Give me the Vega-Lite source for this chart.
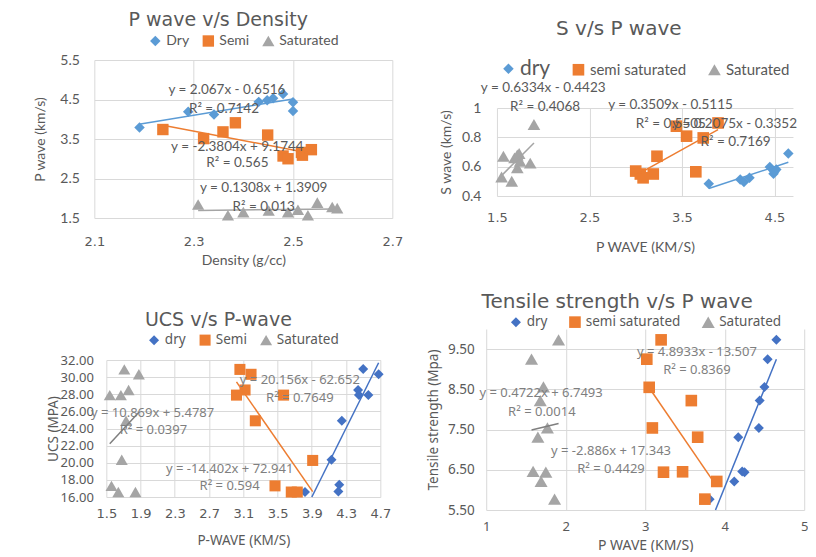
{
  "$schema": "https://vega.github.io/schema/vega-lite/v6.json",
  "background": "white",
  "padding": {"left": 33, "top": 11, "right": 0, "bottom": 0},
  "datasets": {
    "tl_pts": [
      {"g": "Dry", "x": 2.191, "y": 3.79}, {"g": "Dry", "x": 2.289, "y": 4.19}, {"g": "Dry", "x": 2.341, "y": 4.12},
      {"g": "Dry", "x": 2.431, "y": 4.44}, {"g": "Dry", "x": 2.448, "y": 4.48}, {"g": "Dry", "x": 2.46, "y": 4.53},
      {"g": "Dry", "x": 2.48, "y": 4.64}, {"g": "Dry", "x": 2.5, "y": 4.43}, {"g": "Dry", "x": 2.5, "y": 4.21},
      {"g": "Semi", "x": 2.238, "y": 3.74}, {"g": "Semi", "x": 2.32, "y": 3.51}, {"g": "Semi", "x": 2.359, "y": 3.68},
      {"g": "Semi", "x": 2.384, "y": 3.91}, {"g": "Semi", "x": 2.449, "y": 3.6}, {"g": "Semi", "x": 2.48, "y": 3.07},
      {"g": "Semi", "x": 2.49, "y": 3.0}, {"g": "Semi", "x": 2.517, "y": 3.16}, {"g": "Semi", "x": 2.519, "y": 3.09},
      {"g": "Semi", "x": 2.537, "y": 3.23},
      {"g": "Saturated", "x": 2.309, "y": 1.84}, {"g": "Saturated", "x": 2.369, "y": 1.57}, {"g": "Saturated", "x": 2.4, "y": 1.65},
      {"g": "Saturated", "x": 2.451, "y": 1.69}, {"g": "Saturated", "x": 2.49, "y": 1.65}, {"g": "Saturated", "x": 2.51, "y": 1.71},
      {"g": "Saturated", "x": 2.53, "y": 1.57}, {"g": "Saturated", "x": 2.549, "y": 1.89}, {"g": "Saturated", "x": 2.579, "y": 1.78},
      {"g": "Saturated", "x": 2.589, "y": 1.75}
    ],
    "tl_lines": [
      {"g": "Dry", "x": 2.19, "y": 3.875}, {"g": "Dry", "x": 2.5, "y": 4.515},
      {"g": "Semi", "x": 2.238, "y": 3.847}, {"g": "Semi", "x": 2.537, "y": 3.135},
      {"g": "Saturated", "x": 2.309, "y": 1.693}, {"g": "Saturated", "x": 2.589, "y": 1.729}
    ],
    "tl_lbl": [
      {"x": 2.367, "y": 4.74, "t": "y = 2.067x - 0.6516"},
      {"x": 2.361, "y": 4.25, "t": "R² = 0.7142"},
      {"x": 2.388, "y": 3.3, "t": "y = -2.3804x + 9.1744"},
      {"x": 2.388, "y": 2.9, "t": "R² = 0.565"},
      {"x": 2.441, "y": 2.26, "t": "y = 0.1308x + 1.3909"},
      {"x": 2.441, "y": 1.78, "t": "R² = 0.013"}
    ],
    "tr_pts": [
      {"g": "dry", "x": 3.79, "y": 0.483}, {"g": "dry", "x": 4.13, "y": 0.513}, {"g": "dry", "x": 4.17, "y": 0.495},
      {"g": "dry", "x": 4.23, "y": 0.524}, {"g": "dry", "x": 4.45, "y": 0.597}, {"g": "dry", "x": 4.49, "y": 0.551},
      {"g": "dry", "x": 4.52, "y": 0.581}, {"g": "dry", "x": 4.5, "y": 0.565}, {"g": "dry", "x": 4.65, "y": 0.69},
      {"g": "semi saturated", "x": 3.0, "y": 0.57}, {"g": "semi saturated", "x": 3.05, "y": 0.55}, {"g": "semi saturated", "x": 3.08, "y": 0.524},
      {"g": "semi saturated", "x": 3.19, "y": 0.55}, {"g": "semi saturated", "x": 3.23, "y": 0.671}, {"g": "semi saturated", "x": 3.44, "y": 0.876},
      {"g": "semi saturated", "x": 3.55, "y": 0.808}, {"g": "semi saturated", "x": 3.65, "y": 0.565}, {"g": "semi saturated", "x": 3.73, "y": 0.796},
      {"g": "semi saturated", "x": 3.89, "y": 0.898},
      {"g": "Saturated", "x": 1.55, "y": 0.529}, {"g": "Saturated", "x": 1.57, "y": 0.671}, {"g": "Saturated", "x": 1.66, "y": 0.501},
      {"g": "Saturated", "x": 1.69, "y": 0.66}, {"g": "Saturated", "x": 1.72, "y": 0.68}, {"g": "Saturated", "x": 1.74, "y": 0.69},
      {"g": "Saturated", "x": 1.72, "y": 0.592}, {"g": "Saturated", "x": 1.75, "y": 0.637}, {"g": "Saturated", "x": 1.86, "y": 0.624},
      {"g": "Saturated", "x": 1.9, "y": 0.887}
    ],
    "tr_lines": [
      {"g": "dry", "x": 3.79, "y": 0.451}, {"g": "dry", "x": 4.65, "y": 0.63},
      {"g": "semi saturated", "x": 3.0, "y": 0.541}, {"g": "semi saturated", "x": 3.89, "y": 0.853},
      {"g": "Saturated", "x": 1.55, "y": 0.539}, {"g": "Saturated", "x": 1.9, "y": 0.761}
    ],
    "tr_lbl": [
      {"x": 2.0, "y": 1.136, "t": "y = 0.6334x - 0.4423"},
      {"x": 2.02, "y": 1.007, "t": "R² = 0.4068"},
      {"x": 3.376, "y": 1.023, "t": "y = 0.3509x - 0.5115"},
      {"x": 3.38, "y": 0.891, "t": "R² = 0.5505"},
      {"x": 4.07, "y": 0.891, "t": "y = 0.2075x - 0.3352"},
      {"x": 4.08, "y": 0.769, "t": "R² = 0.7169"}
    ],
    "bl_pts": [
      {"g": "dry", "x": 4.5, "y": 30.95}, {"g": "dry", "x": 4.44, "y": 28.5}, {"g": "dry", "x": 4.45, "y": 27.9},
      {"g": "dry", "x": 4.56, "y": 27.9}, {"g": "dry", "x": 4.68, "y": 30.33}, {"g": "dry", "x": 4.25, "y": 24.9},
      {"g": "dry", "x": 4.13, "y": 20.35}, {"g": "dry", "x": 4.22, "y": 17.43}, {"g": "dry", "x": 4.21, "y": 16.65},
      {"g": "dry", "x": 3.82, "y": 16.58},
      {"g": "Semi", "x": 3.06, "y": 30.9}, {"g": "Semi", "x": 3.12, "y": 28.5}, {"g": "Semi", "x": 3.02, "y": 27.9},
      {"g": "Semi", "x": 3.19, "y": 30.33}, {"g": "Semi", "x": 3.24, "y": 24.9}, {"g": "Semi", "x": 3.57, "y": 27.9},
      {"g": "Semi", "x": 3.91, "y": 20.27}, {"g": "Semi", "x": 3.47, "y": 17.3}, {"g": "Semi", "x": 3.66, "y": 16.58},
      {"g": "Semi", "x": 3.73, "y": 16.58},
      {"g": "Saturated", "x": 1.54, "y": 27.9}, {"g": "Saturated", "x": 1.67, "y": 27.9}, {"g": "Saturated", "x": 1.71, "y": 30.9},
      {"g": "Saturated", "x": 1.76, "y": 28.5}, {"g": "Saturated", "x": 1.88, "y": 30.33}, {"g": "Saturated", "x": 1.73, "y": 24.9},
      {"g": "Saturated", "x": 1.68, "y": 20.35}, {"g": "Saturated", "x": 1.56, "y": 17.3}, {"g": "Saturated", "x": 1.64, "y": 16.58},
      {"g": "Saturated", "x": 1.84, "y": 16.58}
    ],
    "bl_lines": [
      {"g": "dry", "x": 3.9, "y": 16.0}, {"g": "dry", "x": 4.68, "y": 31.68},
      {"g": "Semi", "x": 3.02, "y": 29.45}, {"g": "Semi", "x": 3.91, "y": 16.63},
      {"g": "Saturated", "x": 1.54, "y": 22.22}, {"g": "Saturated", "x": 1.88, "y": 25.91}
    ],
    "bl_lbl": [
      {"x": 3.76, "y": 29.67, "t": "y = 20.156x - 62.652"},
      {"x": 3.76, "y": 27.6, "t": "R² = 0.7649"},
      {"x": 2.04, "y": 25.86, "t": "y = 10.869x + 5.4787"},
      {"x": 2.05, "y": 23.84, "t": "R² = 0.0397"},
      {"x": 2.94, "y": 19.26, "t": "y = -14.402x + 72.941"},
      {"x": 2.94, "y": 17.24, "t": "R² = 0.594"}
    ],
    "br_pts": [
      {"g": "dry", "x": 4.65, "y": 9.73}, {"g": "dry", "x": 4.54, "y": 9.25}, {"g": "dry", "x": 4.5, "y": 8.56},
      {"g": "dry", "x": 4.44, "y": 8.22}, {"g": "dry", "x": 4.43, "y": 7.54}, {"g": "dry", "x": 4.17, "y": 7.31},
      {"g": "dry", "x": 4.22, "y": 6.46}, {"g": "dry", "x": 4.25, "y": 6.44}, {"g": "dry", "x": 4.12, "y": 6.21},
      {"g": "dry", "x": 3.81, "y": 5.77},
      {"g": "semi saturated", "x": 3.2, "y": 9.73}, {"g": "semi saturated", "x": 3.02, "y": 9.25}, {"g": "semi saturated", "x": 3.05, "y": 8.55},
      {"g": "semi saturated", "x": 3.58, "y": 8.22}, {"g": "semi saturated", "x": 3.09, "y": 7.54}, {"g": "semi saturated", "x": 3.66, "y": 7.31},
      {"g": "semi saturated", "x": 3.23, "y": 6.44}, {"g": "semi saturated", "x": 3.47, "y": 6.45}, {"g": "semi saturated", "x": 3.9, "y": 6.21},
      {"g": "semi saturated", "x": 3.75, "y": 5.77},
      {"g": "Saturated", "x": 1.91, "y": 9.73}, {"g": "Saturated", "x": 1.57, "y": 9.25}, {"g": "Saturated", "x": 1.72, "y": 8.56},
      {"g": "Saturated", "x": 1.68, "y": 8.22}, {"g": "Saturated", "x": 1.77, "y": 7.54}, {"g": "Saturated", "x": 1.65, "y": 7.31},
      {"g": "Saturated", "x": 1.59, "y": 6.46}, {"g": "Saturated", "x": 1.75, "y": 6.44}, {"g": "Saturated", "x": 1.69, "y": 6.21},
      {"g": "Saturated", "x": 1.86, "y": 5.77}
    ],
    "br_lines": [
      {"g": "dry", "x": 3.884, "y": 5.5}, {"g": "dry", "x": 4.65, "y": 9.247},
      {"g": "semi saturated", "x": 3.02, "y": 8.627}, {"g": "semi saturated", "x": 3.9, "y": 6.088},
      {"g": "Saturated", "x": 1.57, "y": 7.491}, {"g": "Saturated", "x": 1.91, "y": 7.651}
    ],
    "br_lbl": [
      {"x": 3.65, "y": 9.44, "t": "y = 4.8933x - 13.507"},
      {"x": 3.65, "y": 8.98, "t": "R² = 0.8369"},
      {"x": 1.69, "y": 8.4, "t": "y = 0.4722x + 6.7493"},
      {"x": 1.7, "y": 7.93, "t": "R² = 0.0014"},
      {"x": 2.57, "y": 6.97, "t": "y = -2.886x + 17.343"},
      {"x": 2.57, "y": 6.52, "t": "R² = 0.4429"}
    ]
  },
  "hconcat": [
    {
      "concat": [
        {
          "width": 298, "height": 158,
          "title": {"text": "P wave v/s Density", "fontSize": 19, "offset": 4},
          "encoding": {
            "x": {"field": "x", "type": "quantitative", "scale": {"domain": [2.1, 2.7], "nice": false, "zero": false},
              "axis": {"values": [2.1, 2.3, 2.5, 2.7], "format": ".1f", "title": "Density (g/cc)", "labelFont": "DejaVu Sans", "labelFontSize": 13, "titleFont": "Lato", "titleFontSize": 14, "labelPadding": 17, "titlePadding": 5}},
            "y": {"field": "y", "type": "quantitative", "scale": {"domain": [1.5, 5.5], "nice": false, "zero": false},
              "axis": {"values": [1.5, 2.5, 3.5, 4.5, 5.5], "format": ".1f", "title": "P wave (km/s)", "labelFont": "Lato", "labelFontSize": 14, "titleFont": "Lato", "titleFontSize": 14, "labelPadding": 15, "titlePadding": 12}}
          },
          "layer": [
            {
              "data": {"name": "tl_pts"},
              "mark": {"type": "point", "filled": true, "opacity": 1, "strokeWidth": 0},
              "encoding": {
                "color": {"field": "g", "type": "nominal", "scale": {"domain": ["Dry", "Semi", "Saturated"], "range": ["#5b9bd5", "#ed7d31", "#a5a5a5"]},
                  "legend": {"orient": "top", "direction": "horizontal", "title": null, "labelFont": "Lato", "labelFontSize": 14, "labelColor": "#595959", "symbolSize": 60, "symbolStrokeWidth": 0, "columnPadding": 12, "offset": 12}},
                "shape": {"field": "g", "type": "nominal", "scale": {"domain": ["Dry", "Semi", "Saturated"], "range": ["diamond", "square", "triangle-up"]},
                  "legend": {"orient": "top", "direction": "horizontal", "title": null, "labelFont": "Lato", "labelFontSize": 14, "labelColor": "#595959", "symbolSize": 60, "symbolStrokeWidth": 0, "columnPadding": 12, "offset": 12}},
                "size": {"field": "g", "type": "nominal", "scale": {"domain": ["Dry", "Semi", "Saturated"], "range": [110, 150, 120]}, "legend": null}
              }
            },
            {
              "data": {"name": "tl_lines"},
              "mark": {"type": "line", "strokeWidth": 1.5},
              "encoding": {
                "stroke": {"field": "g", "type": "nominal", "scale": {"domain": ["Dry", "Semi", "Saturated"], "range": ["#5b9bd5", "#ed7d31", "#a5a5a5"]}, "legend": null}
              }
            },
            {
              "data": {"name": "tl_lbl"},
              "mark": {"type": "text", "font": "Lato", "fontSize": 13.5, "color": "#595959"},
              "encoding": {"text": {"field": "t", "type": "nominal"}}
            }
          ],
          "resolve": {"scale": {"color": "independent", "shape": "independent", "size": "independent", "stroke": "independent"}}
        },
        {
          "width": 274, "height": 137,
          "title": {"text": "UCS v/s P-wave", "fontSize": 19, "offset": 3},
          "encoding": {
            "x": {"field": "x", "type": "quantitative", "scale": {"domain": [1.5, 4.7], "nice": false, "zero": false},
              "axis": {"values": [1.5, 1.9, 2.3, 2.7, 3.1, 3.5, 3.9, 4.3, 4.7], "format": ".1f", "title": "P-WAVE (KM/S)", "labelFont": "DejaVu Sans", "labelFontSize": 13, "titleFont": "Noto Sans", "titleFontSize": 13.5, "labelPadding": 10, "titlePadding": 13}},
            "y": {"field": "y", "type": "quantitative", "scale": {"domain": [16, 32], "nice": false, "zero": false},
              "axis": {"values": [16, 18, 20, 22, 24, 26, 28, 30, 32], "format": ".2f", "title": "UCS (MPA)", "labelFont": "Noto Sans", "labelFontSize": 13, "titleFont": "Noto Sans", "titleFontSize": 13.5, "labelPadding": 13, "titlePadding": 0}}
          },
          "layer": [
            {
              "data": {"name": "bl_pts"},
              "mark": {"type": "point", "filled": true, "opacity": 1, "strokeWidth": 0},
              "encoding": {
                "color": {"field": "g", "type": "nominal", "scale": {"domain": ["dry", "Semi", "Saturated"], "range": ["#4472c4", "#ed7d31", "#a5a5a5"]},
                  "legend": {"orient": "top", "direction": "horizontal", "title": null, "labelFont": "Noto Sans", "labelFontSize": 13.5, "labelColor": "#595959", "symbolSize": 60, "symbolStrokeWidth": 0, "columnPadding": 12, "offset": 12}},
                "shape": {"field": "g", "type": "nominal", "scale": {"domain": ["dry", "Semi", "Saturated"], "range": ["diamond", "square", "triangle-up"]},
                  "legend": {"orient": "top", "direction": "horizontal", "title": null, "labelFont": "Noto Sans", "labelFontSize": 13.5, "labelColor": "#595959", "symbolSize": 60, "symbolStrokeWidth": 0, "columnPadding": 12, "offset": 12}},
                "size": {"field": "g", "type": "nominal", "scale": {"domain": ["dry", "Semi", "Saturated"], "range": [100, 144, 120]}, "legend": null}
              }
            },
            {
              "data": {"name": "bl_lines"},
              "mark": {"type": "line", "strokeWidth": 1.5},
              "encoding": {
                "stroke": {"field": "g", "type": "nominal", "scale": {"domain": ["dry", "Semi", "Saturated"], "range": ["#4472c4", "#ed7d31", "#7f7f7f"]}, "legend": null}
              }
            },
            {
              "data": {"name": "bl_lbl"},
              "mark": {"type": "text", "font": "Noto Sans", "fontSize": 13, "color": "#7f7f7f"},
              "encoding": {"text": {"field": "t", "type": "nominal"}}
            }
          ],
          "resolve": {"scale": {"color": "independent", "shape": "independent", "size": "independent", "stroke": "independent"}}
        }
      ],
      "columns": 1,
      "spacing": 44,
      "align": "each",
      "center": true,
      "resolve": {"scale": {"color": "independent", "shape": "independent", "size": "independent", "stroke": "independent"}, "legend": {"color": "independent", "shape": "independent"}}
    },
    {
      "concat": [
        {
          "width": 182, "height": 1,
          "title": {"text": "S v/s P wave", "fontSize": 20, "anchor": "start", "frame": "group", "offset": 21},
          "data": {"values": []},
          "mark": {"type": "point"},
          "encoding": {}
        },
        {
          "concat": [
            {
              "width": 296, "height": 88,
              "encoding": {
                "x": {"field": "x", "type": "quantitative", "scale": {"domain": [1.5, 4.7], "nice": false, "zero": false},
                  "axis": {"values": [1.5, 2.5, 3.5, 4.5], "format": ".1f", "title": "P WAVE (KM/S)", "labelFont": "DejaVu Sans", "labelFontSize": 13, "titleFont": "Lato", "titleFontSize": 14, "labelPadding": 15, "titlePadding": 16}},
                "y": {"field": "y", "type": "quantitative", "scale": {"domain": [0.4, 1], "nice": false, "zero": false},
                  "axis": {"values": [0.4, 0.6, 0.8, 1], "format": "~g", "title": "S wave (km/s)", "labelFont": "Lato", "labelFontSize": 14, "titleFont": "Lato", "titleFontSize": 14, "labelPadding": 16, "titlePadding": 8}}
              },
              "layer": [
                {
                  "data": {"name": "tr_pts"},
                  "mark": {"type": "point", "filled": true, "opacity": 1, "strokeWidth": 0},
                  "encoding": {
                    "color": {"field": "g", "type": "nominal", "scale": {"domain": ["dry", "semi saturated", "Saturated"], "range": ["#5b9bd5", "#ed7d31", "#a5a5a5"]},
                      "legend": {"orient": "top", "direction": "horizontal", "title": null, "labelFont": "Lato", "labelFontSize": {"expr": "datum.label === 'dry' ? 21 : 15"}, "labelColor": "#595959", "symbolSize": 70, "symbolStrokeWidth": 0, "columnPadding": 20, "offset": 29}},
                    "shape": {"field": "g", "type": "nominal", "scale": {"domain": ["dry", "semi saturated", "Saturated"], "range": ["diamond", "square", "triangle-up"]},
                      "legend": {"orient": "top", "direction": "horizontal", "title": null, "labelFont": "Lato", "labelFontSize": {"expr": "datum.label === 'dry' ? 21 : 15"}, "labelColor": "#595959", "symbolSize": 70, "symbolStrokeWidth": 0, "columnPadding": 20, "offset": 29}},
                    "size": {"field": "g", "type": "nominal", "scale": {"domain": ["dry", "semi saturated", "Saturated"], "range": [110, 160, 125]}, "legend": null}
                  }
                },
                {
                  "data": {"name": "tr_lines"},
                  "mark": {"type": "line", "strokeWidth": 1.5},
                  "encoding": {
                    "stroke": {"field": "g", "type": "nominal", "scale": {"domain": ["dry", "semi saturated", "Saturated"], "range": ["#5b9bd5", "#ed7d31", "#a5a5a5"]}, "legend": null}
                  }
                },
                {
                  "data": {"name": "tr_lbl"},
                  "mark": {"type": "text", "font": "Lato", "fontSize": 13.5, "color": "#595959"},
                  "encoding": {"text": {"field": "t", "type": "nominal"}}
                }
              ],
              "resolve": {"scale": {"color": "independent", "shape": "independent", "size": "independent", "stroke": "independent"}}
            },
            {
              "width": 318, "height": 181,
              "title": {"text": "Tensile strength v/s P wave", "fontSize": 20, "offset": 3},
              "encoding": {
                "x": {"field": "x", "type": "quantitative", "scale": {"domain": [1, 5], "nice": false, "zero": false},
                  "axis": {"values": [1, 2, 3, 4, 5], "format": "d", "title": "P WAVE (KM/S)", "labelFont": "Noto Sans", "labelFontSize": 13, "titleFont": "Noto Sans", "titleFontSize": 14, "labelPadding": 10, "titlePadding": 5}},
                "y": {"field": "y", "type": "quantitative", "scale": {"domain": [5.5, 10], "nice": false, "zero": false},
                  "axis": {"values": [5.5, 6.5, 7.5, 8.5, 9.5], "format": ".2f", "title": "Tensile strength (Mpa)", "labelFont": "Noto Sans", "labelFontSize": 13.5, "titleFont": "Noto Sans", "titleFontSize": 13.5, "labelPadding": 12, "titlePadding": 7}}
              },
              "layer": [
                {
                  "data": {"name": "br_pts"},
                  "mark": {"type": "point", "filled": true, "opacity": 1, "strokeWidth": 0},
                  "encoding": {
                    "color": {"field": "g", "type": "nominal", "scale": {"domain": ["dry", "semi saturated", "Saturated"], "range": ["#4472c4", "#ed7d31", "#a5a5a5"]},
                      "legend": {"orient": "top", "direction": "horizontal", "title": null, "labelFont": "Noto Sans", "labelFontSize": 13.5, "labelColor": "#595959", "symbolSize": 60, "symbolStrokeWidth": 0, "columnPadding": 20, "offset": 0}},
                    "shape": {"field": "g", "type": "nominal", "scale": {"domain": ["dry", "semi saturated", "Saturated"], "range": ["diamond", "square", "triangle-up"]},
                      "legend": {"orient": "top", "direction": "horizontal", "title": null, "labelFont": "Noto Sans", "labelFontSize": 13.5, "labelColor": "#595959", "symbolSize": 60, "symbolStrokeWidth": 0, "columnPadding": 20, "offset": 0}},
                    "size": {"field": "g", "type": "nominal", "scale": {"domain": ["dry", "semi saturated", "Saturated"], "range": [100, 170, 130]}, "legend": null}
                  }
                },
                {
                  "data": {"name": "br_lines"},
                  "mark": {"type": "line", "strokeWidth": 1.5},
                  "encoding": {
                    "stroke": {"field": "g", "type": "nominal", "scale": {"domain": ["dry", "semi saturated", "Saturated"], "range": ["#4472c4", "#ed7d31", "#7f7f7f"]}, "legend": null}
                  }
                },
                {
                  "data": {"name": "br_lbl"},
                  "mark": {"type": "text", "font": "Noto Sans", "fontSize": 13, "color": "#7f7f7f"},
                  "encoding": {"text": {"field": "t", "type": "nominal"}}
                }
              ],
              "resolve": {"scale": {"color": "independent", "shape": "independent", "size": "independent", "stroke": "independent"}}
            }
          ],
          "columns": 1,
          "spacing": 38,
          "align": "each",
          "center": true,
          "resolve": {"scale": {"color": "independent", "shape": "independent", "size": "independent", "stroke": "independent"}, "legend": {"color": "independent", "shape": "independent"}}
        }
      ],
      "columns": 1,
      "spacing": 0,
      "align": "each",
      "center": true,
      "resolve": {"scale": {"color": "independent", "shape": "independent", "size": "independent", "stroke": "independent"}, "legend": {"color": "independent", "shape": "independent"}}
    }
  ],
  "spacing": 23,
  "center": false,
  "resolve": {"scale": {"color": "independent", "shape": "independent", "size": "independent", "stroke": "independent"}, "legend": {"color": "independent", "shape": "independent"}},
  "config": {
    "view": {"stroke": null},
    "axis": {"gridColor": "#d9d9d9", "gridWidth": 1, "domain": false, "ticks": false, "labelColor": "#595959", "titleColor": "#595959", "titleFontWeight": "normal", "labelFlush": false, "labelOverlap": false, "labelBound": false},
    "title": {"color": "#595959", "fontWeight": "normal", "font": "DejaVu Sans", "anchor": "middle", "frame": "bounds"},
    "legend": {"layout": {"top": {"anchor": "middle"}}}
  }
}
